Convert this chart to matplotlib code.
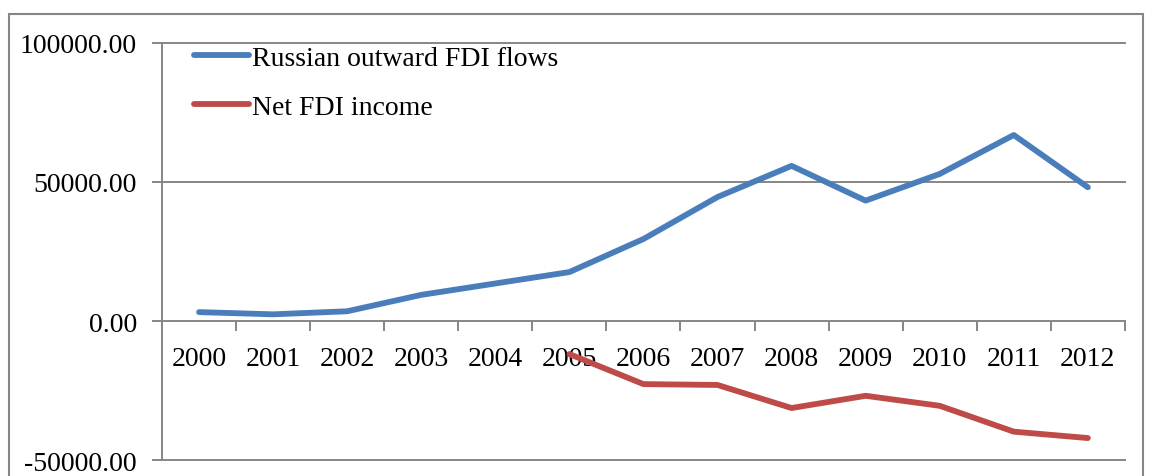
import numpy as np
import matplotlib.pyplot as plt
from matplotlib.patches import Rectangle

years = [str(y) for y in range(2000, 2013)]
outward_fdi = [3200, 2400, 3500, 9400, 13500, 17600, 29500, 44600, 55800, 43300, 52900, 66900, 48100]
net_income_years = years[5:]
net_income = [-11900, -22700, -23000, -31300, -26900, -30500, -39800, -42100]

plt.rcParams["font.family"] = "Liberation Serif"
plt.rcParams["font.size"] = 20

fig = plt.figure(figsize=(11.49, 4.77), dpi=100)
ax = fig.add_axes([0.141, 0.0335, 0.838, 0.8743])

grey = "#868686"
xs = np.arange(len(years)) + 0.5
ax.plot(xs, outward_fdi, color="#4A7EBB", lw=4.2, solid_capstyle="round",
        solid_joinstyle="round", label="Russian outward FDI flows", zorder=3)
xs_red = [years.index(y) + 0.5 for y in net_income_years]
ax.plot(xs_red, net_income, color="#BE4B48", lw=4.2, solid_capstyle="round",
        solid_joinstyle="round", label="Net FDI income", zorder=3)

ax.set_xlim(0, len(years))
ax.set_ylim(-50000, 100000)

for yv in [-50000, 50000, 100000]:
    ax.axhline(yv, color=grey, lw=1.4, clip_on=False, zorder=1)

for s in ["top", "right"]:
    ax.spines[s].set_visible(False)
ax.spines["bottom"].set_position(("data", 0))
ax.spines["bottom"].set_color(grey)
ax.spines["bottom"].set_linewidth(1.4)
ax.spines["left"].set_color(grey)
ax.spines["left"].set_linewidth(1.4)

ax.set_yticks([-50000, 0, 50000, 100000])
ax.set_yticklabels(["%.2f" % v for v in [-50000, 0, 50000, 100000]])
ax.tick_params(axis="y", length=7, width=1.4, color=grey, pad=11)

ax.set_xticks(np.arange(len(years) + 1))
ax.set_xticklabels([])
ax.set_xticks(xs, minor=True)
ax.set_xticklabels(years, minor=True)
ax.tick_params(axis="x", which="major", length=7, width=1.4, color=grey, direction="out")
ax.tick_params(axis="x", which="minor", length=0, pad=18)

ax.legend(loc="upper left", bbox_to_anchor=(0.033, 0.995), frameon=False,
          handlelength=2.0, handletextpad=0.1, labelspacing=0.85,
          borderpad=0, borderaxespad=0)

fig.patches.append(Rectangle((9 / 1149, -0.1), 1134 / 1149, 1.1 - 15 / 477,
                             transform=fig.transFigure, fill=False,
                             edgecolor=grey, lw=1.5))

fig.savefig("out.png", dpi=100)
